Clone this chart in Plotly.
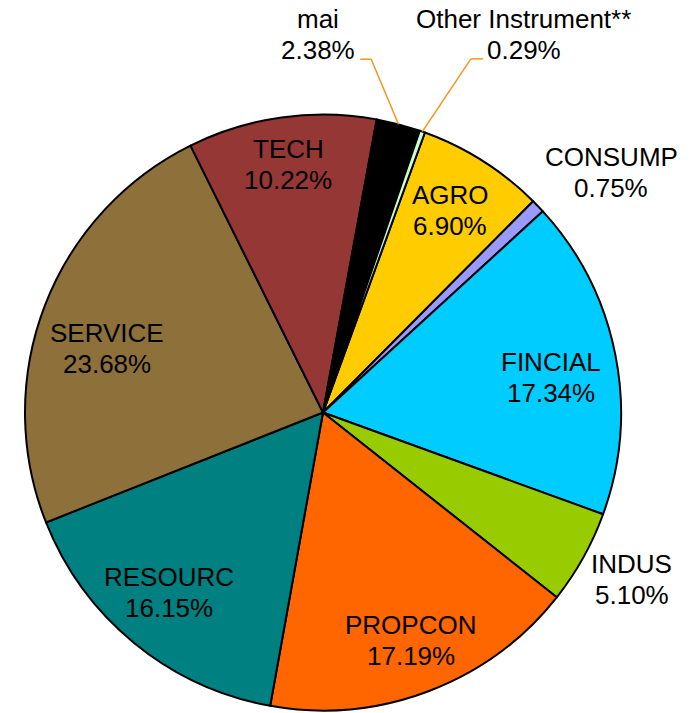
import math
import plotly.graph_objects as go

# ---- data ----
labels = ["AGRO", "CONSUMP", "FINCIAL", "INDUS", "PROPCON", "RESOURC",
          "SERVICE", "TECH", "mai", "Other Instrument**"]
shares = [6.90, 0.75, 17.34, 5.10, 17.19, 16.15, 23.68, 10.22, 2.38, 0.29]
pct_text = ["6.90%", "0.75%", "17.34%", "5.10%", "17.19%", "16.15%",
            "23.68%", "10.22%", "2.38%", "0.29%"]

# ---- styles ----
colors = ["#FFCC00", "#9999FF", "#00CCFF", "#99CC00", "#FF6600", "#008080",
          "#8E703A", "#953735", "#000000", "#CCFFCC"]
W, H = 692, 713
OFF = 0.0            # page body margin removed via post_script
CX, CY, R = 323.0, 412.5, 298.0
ROT = 20.0
FONT = dict(family="Liberation Sans, Arial, sans-serif", size=26, color="#000000")
LINE_GAP = 31.0
# label placement: (radius fraction, angle tweak in degrees)
label_polar = [(0.80, -0.2), (1.26, 4.0), (0.774, 2.5), (1.178, -0.8),
               (0.819, -0.4), (0.796, 1.2), (0.756, -4.6), (0.839, 0.0),
               (1.268, -15.4), (1.437, 8.5)]
leader_slices = {8: (42, 53), 9: (-41, -53)}   # text-side end, elbow (x offsets)
LEADER_COLOR = "#F7941E"


def px2paper(x, y):
    return (x - OFF) / W, 1 - (y - OFF) / H


dx0, dy1 = px2paper(CX - R, CY - R)
dx1, dy0 = px2paper(CX + R, CY + R)

fig = go.Figure(go.Pie(
    labels=labels, values=shares, sort=False, direction="clockwise",
    rotation=ROT, textinfo="none", hoverinfo="label+percent",
    marker=dict(colors=colors, line=dict(color="#000000", width=2)),
    domain=dict(x=[dx0, dx1], y=[dy0, dy1]),
    showlegend=False,
))

total = sum(shares)
annotations = []
shapes = []
cum = 0.0
for i, (lab, v) in enumerate(zip(labels, shares)):
    mid = ROT + (cum + v / 2) / total * 360.0
    cum += v
    rf, dang = label_polar[i]
    a = math.radians(mid + dang)
    lx = CX + rf * R * math.sin(a)
    ly = CY - rf * R * math.cos(a)
    for txt, yy in ((lab, ly - LINE_GAP / 2), (pct_text[i], ly + LINE_GAP / 2)):
        xp, yp = px2paper(lx, yy)
        annotations.append(dict(x=xp, y=yp, xref="paper", yref="paper",
                                text=txt, showarrow=False, font=FONT,
                                xanchor="center", yanchor="middle"))
    if i in leader_slices:
        m = math.radians(mid)
        ex, ey = CX + R * math.sin(m), CY - R * math.cos(m)
        t_off, e_off = leader_slices[i]
        hy = ly + 24.5
        pts = [(lx + t_off, hy), (lx + e_off, hy), (ex, ey)]
        for (x0, y0), (x1, y1) in zip(pts[:-1], pts[1:]):
            a0, b0 = px2paper(x0, y0)
            a1, b1 = px2paper(x1, y1)
            shapes.append(dict(type="line", xref="paper", yref="paper",
                               x0=a0, y0=b0, x1=a1, y1=b1,
                               line=dict(color=LEADER_COLOR, width=1.5)))

fig.update_layout(
    width=W, height=H, margin=dict(l=0, r=0, t=0, b=0),
    paper_bgcolor="#FFFFFF", plot_bgcolor="#FFFFFF",
    annotations=annotations, shapes=shapes,
)
fig.write_html("out.html",
               config={"displayModeBar": False},
               post_script="document.body.style.margin='0';"
                           "document.body.style.overflow='hidden';")
